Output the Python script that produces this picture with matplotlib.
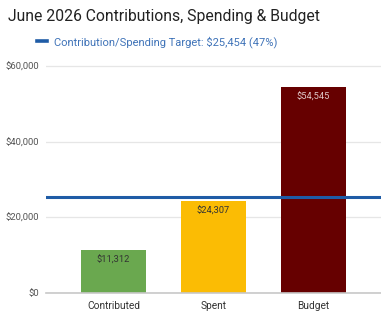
import matplotlib
matplotlib.use("Agg")
import matplotlib.pyplot as plt
from matplotlib.lines import Line2D

categories = ["Contributed", "Spent", "Budget"]
values = [11312, 24307, 54545]
bar_colors = ["#6aa84f", "#fbbc04", "#660000"]
label_colors = ["#333333", "#333333", "#e0c8c8"]
target = 25454
target_label = "Contribution/Spending Target: $25,454 (47%)"
yticks = [0, 20000, 40000, 60000]
ytick_labels = ["$0", "$20,000", "$40,000", "$60,000"]
title = "June 2026 Contributions, Spending & Budget"

plt.rcParams['font.family'] = ['Roboto', 'DejaVu Sans']

fig = plt.figure(figsize=(3.81, 3.12), dpi=100)
px_per = (293 - 66) / 60000
ax = fig.add_axes([46/381, (312-293)/312, 1 - 46/381, 293/312])
ax.set_ylim(0, 293 / px_per)

x = list(range(len(categories)))
ax.bar(x, values, width=0.645, color=bar_colors, zorder=2)
ax.set_xlim(-0.675, 2.675)

for xi, v, lc in zip(x, values, label_colors):
    ax.text(xi, v - 1500, f"${v:,}", ha="center", va="top", fontsize=6.7,
            color=lc, zorder=3)

ax.axhline(target, color="#1f5ca6", lw=2.2, zorder=4)

ax.set_yticks(yticks)
ax.set_yticklabels(ytick_labels, fontsize=6.8, color="#555555")
ax.set_xticks(x)
ax.set_xticklabels(categories, fontsize=7.3, color="#333333")
ax.tick_params(axis="y", length=0, pad=5)
ax.tick_params(axis="x", length=0, pad=6)

ax.grid(axis="y", color="#e6e6e6", lw=0.9, zorder=0)
for s in ["top", "right", "left"]:
    ax.spines[s].set_visible(False)
ax.spines["bottom"].set_color("#c8c8c8")
ax.spines["bottom"].set_linewidth(1.2)
ax.set_axisbelow(True)

fig.text(8/381, 1 - 16/312, title, fontsize=11.3, color="#222222", va="center", ha="left")

handle = Line2D([], [], color="#1f5ca6", lw=2.6)
fig.legend([handle], [target_label], loc="center left",
           bbox_to_anchor=(37/381, 1 - 42/312), frameon=False,
           fontsize=8.0, labelcolor="#3f73b8", handlelength=0.9,
           handletextpad=0.6, borderaxespad=0, borderpad=0)

fig.savefig("out.png", dpi=100)
